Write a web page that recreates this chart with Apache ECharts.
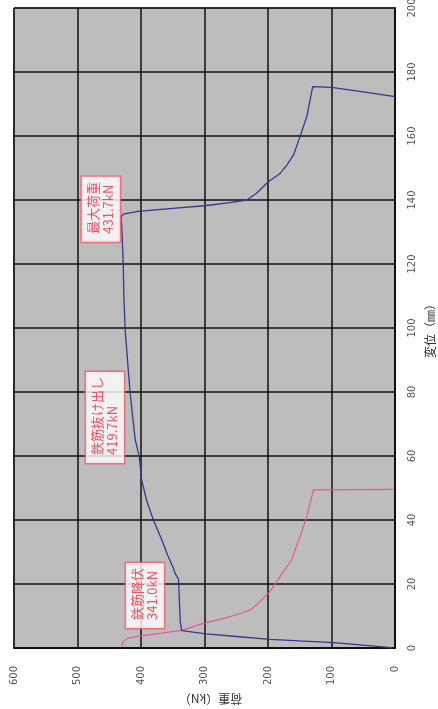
<!DOCTYPE html>
<html>
<head>
<meta charset="utf-8">
<script src="https://cdn.jsdelivr.net/npm/echarts@6/dist/echarts.min.js"></script>
<style>
  html, body { margin: 0; padding: 0; background: #fff; }
  #chart { width: 438px; height: 709px; }
</style>
</head>
<body>
<div id="chart"></div>
<script>
// Pull-out test record: load (kN) against displacement (mm)
const mainLoad = [5, 10.5, 55, 97, 150, 197, 250, 297, 336, 338, 339, 340, 341.0, 346.5, 349, 358, 367,
  380.5, 391, 399, 402.7, 409, 413, 417, 419.7, 422, 425, 427, 428, 429.5, 430.4, 431.7, 428, 407, 396,
  350, 300, 260, 233.5, 218, 199.5, 181, 170, 160, 149.6, 139, 134, 129.6, 128.6, 99.7, 50, 0];
const mainDisp = [0, 0.2, 1.0, 1.7, 2.2, 2.7, 3.6, 4.4, 5.4, 8.0, 11.9, 17, 21.5, 23.4, 24.9, 29, 33.7,
  40, 46, 52.5, 59.8, 65, 72, 79.6, 86, 92, 99.4, 110, 120, 128, 132, 134.6, 135.6, 136.4, 136.6,
  137.4, 138.2, 139.2, 140, 142.1, 145.7, 148.3, 151, 154, 159.8, 166, 171, 175.4, 175.6, 175.2, 173.8, 172.3];

// Second trace
const subLoad = [430, 428.5, 422, 402, 370, 336, 302, 265, 240, 228, 215, 197, 181, 163, 149.6, 139, 128.6, 3];
const subDisp = [0.4, 2.0, 3.0, 3.8, 4.6, 5.5, 7.7, 9.5, 11.0, 11.9, 14, 17.6, 22.3, 27.5, 34.8, 41, 49.4, 49.6];

// Annotated events
const noteNames = ['鉄筋降伏', '鉄筋抜け出し', '最大荷重'];
const noteLoads = [341.0, 419.7, 431.7];
const noteDisps = [21.5, 86, 134.6];

// Axis ticks
const loadTicks = [0, 100, 200, 300, 400, 500, 600];
const dispTicks = [0, 20, 40, 60, 80, 100, 120, 140, 160, 180, 200];

// Label offsets are given in the label's own (rotated) frame
const noteOffsets = [[-48.8, -33.5], [-90.2, -23.5], [-24.4, -20]];

const chart = echarts.init(document.getElementById('chart'));

const axisText = { fontFamily: 'DejaVu Sans', fontSize: 10, color: '#555' };

chart.setOption({
  animation: false,
  backgroundColor: '#fff',
  grid: {
    left: 14, right: 43, top: 8, bottom: 61,
    outerBoundsMode: 'none',
    containLabel: false,
    show: true, backgroundColor: '#bdbdbd', borderColor: '#222', borderWidth: 1
  },
  xAxis: {
    type: 'value',
    min: loadTicks[0], max: loadTicks[loadTicks.length - 1],
    interval: loadTicks[1] - loadTicks[0],
    inverse: true,
    position: 'bottom',
    name: '荷重（kN）',
    nameLocation: 'middle',
    nameGap: 43,
    nameRotate: 180,
    nameTextStyle: { fontFamily: 'Noto Sans CJK JP', fontSize: 12, color: '#333', padding: [0, 12, 0, 0] },
    axisLine: { show: true, lineStyle: { color: '#111', width: 2 } },
    axisTick: { show: false },
    axisLabel: Object.assign({ rotate: 90, margin: 18 }, axisText),
    splitLine: { show: true, lineStyle: { color: '#111', width: 1.5 } }
  },
  yAxis: {
    type: 'value',
    min: dispTicks[0], max: dispTicks[dispTicks.length - 1],
    interval: dispTicks[1] - dispTicks[0],
    position: 'right',
    name: '変位（㎜）',
    nameLocation: 'middle',
    nameGap: 27,
    nameRotate: 90,
    nameTextStyle: { fontFamily: 'Noto Sans CJK JP', fontSize: 12, color: '#333' },
    axisLine: { show: true, lineStyle: { color: '#111', width: 2 } },
    axisTick: { show: false },
    axisLabel: Object.assign({ rotate: 90, margin: 12 }, axisText),
    splitLine: { show: true, lineStyle: { color: '#111', width: 1.5 } }
  },
  series: [
    {
      type: 'line',
      data: mainLoad.map((v, i) => [v, mainDisp[i]]),
      showSymbol: false,
      lineStyle: { color: '#383888', width: 1.3 },
      z: 3
    },
    {
      type: 'line',
      data: subLoad.map((v, i) => [v, subDisp[i]]),
      showSymbol: false,
      lineStyle: { color: '#e0589c', width: 1.2 },
      z: 2
    },
    {
      type: 'scatter',
      symbolSize: 0,
      z: 5,
      data: noteLoads.map((v, i) => ({
        value: [v, noteDisps[i]],
        name: noteNames[i],
        label: { offset: noteOffsets[i] }
      })),
      label: {
        show: true,
        position: 'inside',
        rotate: 90,
        align: 'left',
        verticalAlign: 'middle',
        formatter: p => p.name + '\n' + p.value[0].toFixed(1) + 'kN',
        fontFamily: 'Noto Sans CJK JP',
        fontSize: 13,
        lineHeight: 15,
        color: '#f02a40',
        backgroundColor: '#fff',
        borderColor: '#f06070',
        borderWidth: 1.5,
        padding: [4, 5, 4, 8]
      }
    }
  ]
});
</script>
</body>
</html>
